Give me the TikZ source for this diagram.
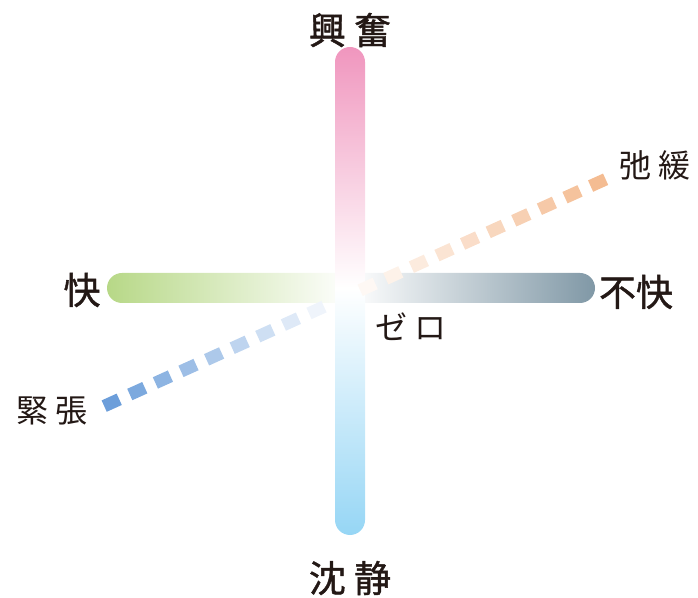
\documentclass[tikz,border=0pt]{standalone}
\usepackage{fontspec}
\newfontfamily\cjk{Noto Sans CJK JP}
\newfontfamily\cjkb{Noto Sans CJK JP}[BoldFont=*,FakeBold=1.2]
\definecolor{cpink}{RGB}{240,150,190}
\definecolor{cgreen}{RGB}{183,216,135}
\definecolor{cgray}{RGB}{128,152,166}
\definecolor{csky}{RGB}{150,214,245}
\definecolor{corange}{RGB}{244,188,146}
\definecolor{cblue}{RGB}{108,158,218}
\definecolor{ctext}{RGB}{35,24,21}
\tikzset{
  mainlabel/.style={text=ctext,font=\cjkb\fontsize{37pt}{40pt}\selectfont,inner sep=0pt},
  sublabel/.style={text=ctext,font=\cjk\fontsize{32pt}{34pt}\selectfont,inner sep=0pt},
  dashbox/.style={minimum width=16.5pt,minimum height=12.5pt,inner sep=0pt,rotate=24.34}
}
\begin{document}
\begin{tikzpicture}[x=1pt,y=1pt]
\useasboundingbox (0,0) rectangle (698,597);
% horizontal bar
\shade[left color=cgreen,right color=white] (350,324) -- (122,324) arc[start angle=90,end angle=270,radius=15] -- (350,294) -- cycle;
\shade[left color=white,right color=cgray] (350,324) -- (580,324) arc[start angle=90,end angle=-90,radius=15] -- (350,294) -- cycle;
% vertical bar
\shade[top color=cpink,bottom color=white] (335,309) -- (335,535) arc[start angle=180,end angle=0,radius=15] -- (365,309) -- cycle;
\shade[top color=white,bottom color=csky] (335,309) -- (335,77) arc[start angle=180,end angle=360,radius=15] -- (365,309) -- cycle;
% dashed diagonal
\foreach \i in {0,...,8}{
  \pgfmathsetmacro{\t}{100*(9-\i)/9}
  \node[dashbox,fill=cblue!\t!white] (b\i) at ({111.7+25.6*\i},{597-402.7+11.58*\i}) {};
}
\foreach \i in {10,...,19}{
  \pgfmathsetmacro{\t}{100*(\i-9)/10}
  \node[dashbox,fill=corange!\t!white] (o\i) at ({111.7+25.6*\i},{597-402.7+11.58*\i}) {};
}
% labels
\node[mainlabel] (kofun) at (350,567) {興 奮};
\node[mainlabel] (chinsei) at (350,19) {沈 静};
\node[mainlabel] (kai) at (82,307) {快};
\node[mainlabel] (fukai) at (636,305) {不快};
\node[sublabel] (shikan) at (655,432) {弛 緩};
\node[sublabel] (kincho) at (52,186) {緊 張};
\node[sublabel] (zero) at (411,270) {ゼ ロ};
\end{tikzpicture}
\end{document}
